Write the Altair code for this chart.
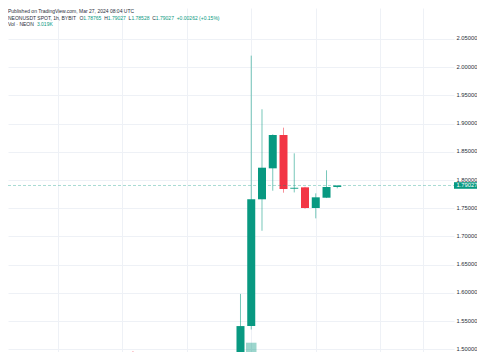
import altair as alt
import pandas as pd

# ---------------- data ----------------
candle_idx = list(range(28))
opens = [1.470, 1.478, 1.472, 1.477, 1.471, 1.473, 1.470, 1.476, 1.4925, 1.478,
         1.472, 1.469, 1.471, 1.467, 1.470, 1.468, 1.466, 1.469, 1.474, 1.541,
         1.7658, 1.8207, 1.8798, 1.7846, 1.787, 1.7503, 1.7686, 1.78765]
highs = [1.4854, 1.4836, 1.4829, 1.4842, 1.479, 1.478, 1.4895, 1.4925, 1.4966, 1.479,
         1.476, 1.475, 1.474, 1.474, 1.473, 1.472, 1.473, 1.478, 1.598, 2.0205,
         1.9254, 1.881, 1.8928, 1.8473, 1.788, 1.7763, 1.8172, 1.79027]
lows = [1.466, 1.468, 1.469, 1.466, 1.466, 1.465, 1.467, 1.474, 1.475, 1.468,
        1.465, 1.466, 1.463, 1.464, 1.465, 1.462, 1.463, 1.466, 1.470, 1.535,
        1.710, 1.781, 1.7775, 1.778, 1.749, 1.732, 1.768, 1.78528]
closes = [1.478, 1.472, 1.476, 1.471, 1.473, 1.470, 1.476, 1.4925, 1.478, 1.472,
          1.469, 1.471, 1.467, 1.470, 1.468, 1.466, 1.469, 1.474, 1.541, 1.7658,
          1.8218, 1.8798, 1.784, 1.7862, 1.7503, 1.7693, 1.7876, 1.79027]
volumes = [60000, 45000, 40000, 50000, 35000, 42000, 55000, 120000, 110000, 60000,
           40000, 38000, 45000, 36000, 30000, 34000, 40000, 70000, 900000, 1850000,
           1100000, 600000, 500000, 250000, 300000, 200000, 150000, 3019]

price_ticks = [1.50, 1.55, 1.60, 1.65, 1.70, 1.75, 1.80, 1.85, 1.90, 1.95, 2.00, 2.05]
time_grid = [1, 7, 13, 19, 25, 31, 35]

published = "Published on TradingView.com, Mar 27, 2024 08:04 UTC"
header_segments = [
    ("NEONUSDT SPOT, 1h, BYBIT  ", "dark"),
    ("O", "dark"), ("1.78765  ", "green"),
    ("H", "dark"), ("1.79027  ", "green"),
    ("L", "dark"), ("1.78528  ", "green"),
    ("C", "dark"), ("1.79027  ", "green"),
    ("+0.00262 (+0.15%)", "green"),
]
vol_segments = [("Vol · NEON  ", "dark"), ("3.019K", "green")]

# ---------------- styling ----------------
GREEN = "#089981"
RED = "#F23645"
DARK = "#2a2e39"
GRID = "#eef1f6"
FONT = "Liberation Sans"
PLOT_W, PLOT_H = 446, 344

df = pd.DataFrame({"k": candle_idx, "open": opens, "high": highs, "low": lows,
                   "close": closes, "vol": volumes})
df["dir"] = ["up" if c >= o else "down" for o, c in zip(opens, closes)]
last = df.tail(1)

color = alt.Color("dir:N", scale=alt.Scale(domain=["up", "down"], range=[GREEN, RED]), legend=None)

xdef = alt.X("k:Q", scale=alt.Scale(domain=[-3.155, 37.39], nice=False, zero=False),
             axis=alt.Axis(values=time_grid, labels=False, ticks=False, domain=False,
                           grid=True, gridColor=GRID, title=None))

ydom = alt.Scale(domain=[1.49504, 2.10496], nice=False, zero=False)
yaxis = alt.Axis(orient="right", values=price_ticks, format=".5f", grid=True, gridColor=GRID,
                 ticks=False, tickSize=0, domain=False, labelAlign="right", labelPadding=23,
                 labelFontSize=5.8, labelColor=DARK, labelFont=FONT, title=None, labelOffset=-1)


def Y(field):
    return alt.Y(field, scale=ydom, axis=yaxis)


wicks = alt.Chart(df).mark_rule(clip=True, strokeWidth=1, opacity=0.55).encode(
    x=xdef, y=Y("low:Q"), y2="high:Q", color=color)
bodies = alt.Chart(df).mark_bar(clip=True, width=8).encode(
    x=xdef, y=Y("open:Q"), y2="close:Q", color=color)
dash = alt.Chart(last).mark_rule(strokeDash=[3, 2], color=GREEN, opacity=0.35, strokeWidth=1).encode(
    y=Y("close:Q"), x=alt.value(0), x2=alt.value(PLOT_W))
box = alt.Chart(last).mark_tick(orient="horizontal", size=26, thickness=6.6, color=GREEN, opacity=1).encode(
    y=Y("close:Q"), x=alt.value(459))
boxtext = alt.Chart(last).mark_text(color="white", fontSize=5.8, font=FONT, align="center",
                                    baseline="middle").encode(
    y=Y("close:Q"), x=alt.value(459), text=alt.Text("close:Q", format=".5f"))

price_layer = alt.layer(wicks, bodies, dash, box, boxtext)

# volume pane base lies below the visible area; only the tallest bar reaches into view
vol = alt.Chart(df).mark_bar(clip=True, width=10.5, opacity=0.4).encode(
    x=xdef,
    y=alt.Y("vol:Q", scale=alt.Scale(domain=[1.55e6, 12.657e6], nice=False, zero=False), axis=None),
    y2=alt.datum(0),
    color=color)

# Arial-metric advance widths (per 1000 em) to lay out coloured header pieces
AW = {" ": 278, ",": 278, ".": 278, "(": 333, ")": 333, "+": 584, "%": 889, "·": 333,
      "A": 667, "B": 667, "C": 722, "D": 722, "E": 667, "H": 722, "I": 278, "K": 667,
      "L": 556, "N": 722, "O": 778, "P": 667, "S": 667, "T": 611, "U": 722, "V": 667,
      "Y": 667, "h": 556, "o": 556, "l": 222}


def tw(s, fs):
    return sum(AW.get(ch, 556) for ch in s) * fs / 1000.0


dummy = pd.DataFrame({"d": [0]})
texts = []


def add_line(segs, x0, y, fs):
    x = x0
    for s, c in segs:
        col = GREEN if c == "green" else DARK
        texts.append(alt.Chart(dummy).mark_text(text=s.rstrip(), align="left", baseline="middle",
                                                fontSize=fs, font=FONT, color=col).encode(
            x=alt.value(x), y=alt.value(y)))
        x += tw(s, fs)


add_line([(published, "dark")], 0, 2.6, 5)
add_line(header_segments, 0, 9.8, 5)
add_line(vol_segments, 0, 16.2, 5)

chart = alt.layer(vol, price_layer, *texts).resolve_scale(y="independent").properties(
    width=PLOT_W, height=PLOT_H,
    autosize=alt.AutoSizeParams(type="none"),
    padding={"left": 0, "top": 0, "right": 23, "bottom": 0},
    background="white",
).configure_view(stroke=None)

chart.save("out.html", embed_options={"renderer": "svg", "actions": False})
